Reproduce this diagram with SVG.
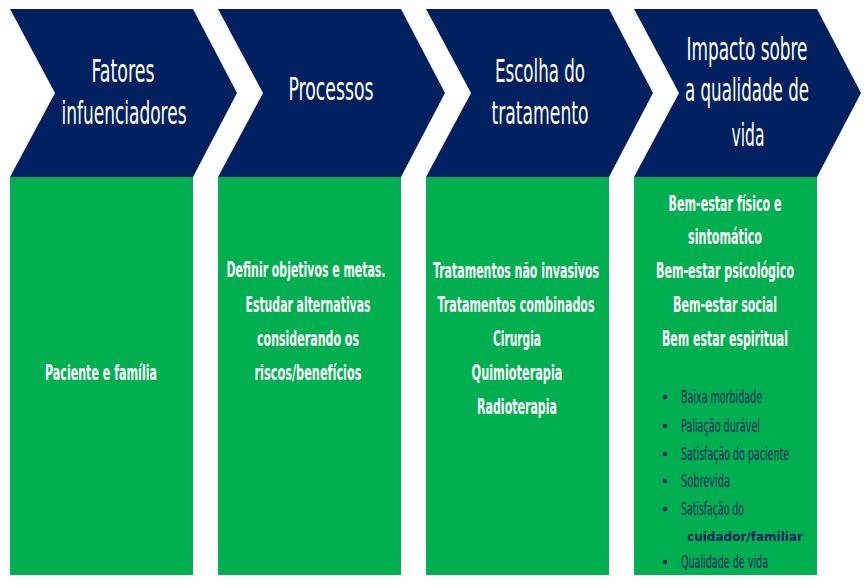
<svg xmlns="http://www.w3.org/2000/svg" width="867" height="588" viewBox="0 0 867 588">
<style>
.chev{fill:#002060}
.box{fill:#00B050}
.h{font-family:"DejaVu Sans Condensed","DejaVu Sans",sans-serif;font-stretch:condensed;font-size:19px;fill:#fff;text-anchor:middle}
.t{font-family:"DejaVu Sans Condensed","DejaVu Sans",sans-serif;font-stretch:condensed;font-size:12.3px;font-weight:bold;fill:#fff;text-anchor:middle}
.b{font-family:"DejaVu Sans Condensed","DejaVu Sans",sans-serif;font-stretch:condensed;font-size:10.6px;fill:#002060}
.c{font-family:"DejaVu Sans",sans-serif;font-size:12px;font-weight:bold;fill:#002060}
.dot{fill:#002060}
</style>
<rect width="867" height="588" fill="#fff"/>
<g id="node1">
<path class="chev" d="M10,9 L193,9 L237,93 L193,177 L10,177 L55,93 Z"/>
<text class="h" transform="translate(123,82) scale(1,1.65)" textLength="63" lengthAdjust="spacingAndGlyphs">Fatores</text>
<text class="h" transform="translate(124,124) scale(1,1.65)" textLength="125" lengthAdjust="spacingAndGlyphs">infuenciadores</text>
<rect class="box" x="10" y="177" width="183" height="398"/>
<text class="t" transform="translate(101,380) scale(1,1.7)" textLength="112" lengthAdjust="spacingAndGlyphs">Paciente e família</text>
</g>
<g id="node2">
<path class="chev" d="M218,9 L401,9 L445,93 L401,177 L218,177 L263,93 Z"/>
<text class="h" transform="translate(331,100) scale(1,1.65)" textLength="85" lengthAdjust="spacingAndGlyphs">Processos</text>
<rect class="box" x="218" y="177" width="183" height="398"/>
<text class="t" transform="translate(306,277) scale(1,1.7)" textLength="159" lengthAdjust="spacingAndGlyphs">Definir objetivos e metas.</text>
<text class="t" transform="translate(308,312) scale(1,1.7)" textLength="125" lengthAdjust="spacingAndGlyphs">Estudar alternativas</text>
<text class="t" transform="translate(308,346) scale(1,1.7)" textLength="102" lengthAdjust="spacingAndGlyphs">considerando os</text>
<text class="t" transform="translate(308,380) scale(1,1.7)" textLength="107" lengthAdjust="spacingAndGlyphs">riscos/benefícios</text>
</g>
<g id="node3">
<path class="chev" d="M426,9 L609,9 L653,93 L609,177 L426,177 L471,93 Z"/>
<text class="h" transform="translate(540,82) scale(1,1.65)" textLength="90" lengthAdjust="spacingAndGlyphs">Escolha do</text>
<text class="h" transform="translate(540,124) scale(1,1.65)" textLength="97" lengthAdjust="spacingAndGlyphs">tratamento</text>
<rect class="box" x="426" y="177" width="183" height="398"/>
<text class="t" transform="translate(516,278) scale(1,1.7)" textLength="166" lengthAdjust="spacingAndGlyphs">Tratamentos não invasivos</text>
<text class="t" transform="translate(516,312) scale(1,1.7)" textLength="157" lengthAdjust="spacingAndGlyphs">Tratamentos combinados</text>
<text class="t" transform="translate(517,346) scale(1,1.7)" textLength="48" lengthAdjust="spacingAndGlyphs">Cirurgia</text>
<text class="t" transform="translate(517,380) scale(1,1.7)" textLength="91" lengthAdjust="spacingAndGlyphs">Quimioterapia</text>
<text class="t" transform="translate(517,414) scale(1,1.7)" textLength="80" lengthAdjust="spacingAndGlyphs">Radioterapia</text>
</g>
<g id="node4">
<path class="chev" d="M634,9 L817,9 L861,93 L817,177 L634,177 L679,93 Z"/>
<text class="h" transform="translate(747,60) scale(1,1.65)" textLength="121" lengthAdjust="spacingAndGlyphs">Impacto sobre</text>
<text class="h" transform="translate(747,101) scale(1,1.65)" textLength="124" lengthAdjust="spacingAndGlyphs">a qualidade de</text>
<text class="h" transform="translate(748,146) scale(1,1.65)" textLength="33" lengthAdjust="spacingAndGlyphs">vida</text>
<rect class="box" x="634" y="177" width="183" height="398"/>
<text class="t" transform="translate(725,211) scale(1,1.7)" textLength="113" lengthAdjust="spacingAndGlyphs">Bem-estar físico e</text>
<text class="t" transform="translate(725,244) scale(1,1.7)" textLength="74" lengthAdjust="spacingAndGlyphs">sintomático</text>
<text class="t" transform="translate(725,278) scale(1,1.7)" textLength="138" lengthAdjust="spacingAndGlyphs">Bem-estar psicológico</text>
<text class="t" transform="translate(725,312) scale(1,1.7)" textLength="104" lengthAdjust="spacingAndGlyphs">Bem-estar social</text>
<text class="t" transform="translate(725,346) scale(1,1.7)" textLength="126" lengthAdjust="spacingAndGlyphs">Bem estar espiritual</text>
<circle class="dot" cx="665" cy="397" r="2.2"/>
<text class="b" transform="translate(681,403) scale(1,1.6)" textLength="81" lengthAdjust="spacingAndGlyphs">Baixa morbidade</text>
<circle class="dot" cx="665" cy="426" r="2.2"/>
<text class="b" transform="translate(681,432) scale(1,1.6)" textLength="79" lengthAdjust="spacingAndGlyphs">Paliação durável</text>
<circle class="dot" cx="665" cy="454" r="2.2"/>
<text class="b" transform="translate(681,460) scale(1,1.6)" textLength="108" lengthAdjust="spacingAndGlyphs">Satisfação do paciente</text>
<circle class="dot" cx="665" cy="481" r="2.2"/>
<text class="b" transform="translate(681,487) scale(1,1.6)" textLength="49" lengthAdjust="spacingAndGlyphs">Sobrevida</text>
<circle class="dot" cx="665" cy="509" r="2.2"/>
<text class="b" transform="translate(681,515) scale(1,1.6)" textLength="63" lengthAdjust="spacingAndGlyphs">Satisfação do</text>
<text class="c" x="687" y="541" textLength="116" lengthAdjust="spacingAndGlyphs">cuidador/familiar</text>
<circle class="dot" cx="665" cy="562" r="2.2"/>
<text class="b" transform="translate(681,568) scale(1,1.6)" textLength="87" lengthAdjust="spacingAndGlyphs">Qualidade de vida</text>
</g>
<g id="connectors"></g>
</svg>
